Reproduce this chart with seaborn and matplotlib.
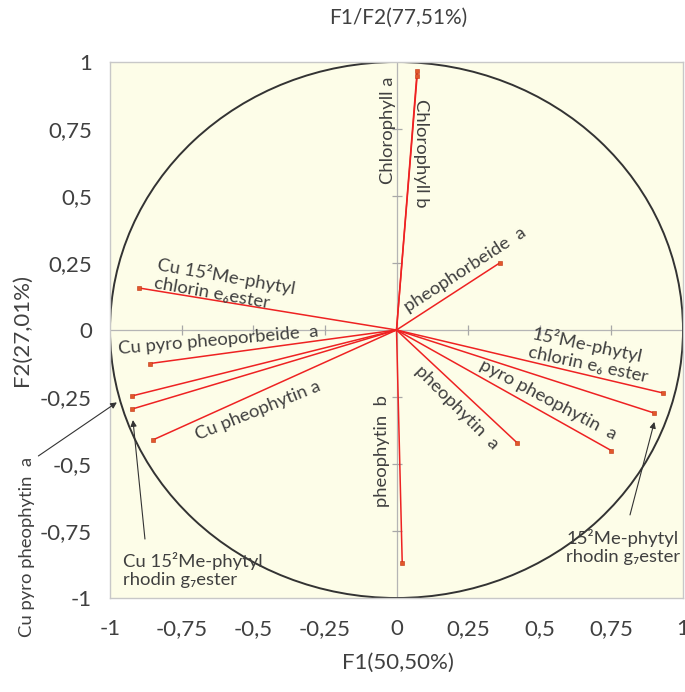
import numpy as np
import pandas as pd
import matplotlib
matplotlib.use("Agg")
import matplotlib.pyplot as plt
from matplotlib.patches import Circle
import seaborn as sns

# ---------------- data ----------------
variables = [
    "Chlorophyll a", "Chlorophyll b", "pheophorbeide a",
    "15²Me-phytyl chlorin e6 ester", "15²Me-phytyl rhodin g7 ester",
    "pyro pheophytin a", "pheophytin a", "pheophytin b",
    "Cu 15²Me-phytyl chlorin e6 ester", "Cu pyro pheoporbeide a",
    "Cu pyro pheophytin a", "Cu 15²Me-phytyl rhodin g7 ester",
    "Cu pheophytin a",
]
f1 = [0.072, 0.072, 0.36, 0.93, 0.90, 0.75, 0.42, 0.02,
      -0.90, -0.86, -0.923, -0.923, -0.85]
f2 = [0.966, 0.948, 0.25, -0.235, -0.31, -0.45, -0.42, -0.87,
      0.157, -0.125, -0.246, -0.295, -0.41]
tick_values = [-1, -0.75, -0.5, -0.25, 0, 0.25, 0.5, 0.75, 1]
tick_labels = ["-1", "-0,75", "-0,5", "-0,25", "0", "0,25", "0,5", "0,75", "1"]
title = "F1/F2(77,51%)"
xlabel = "F1(50,50%)"
ylabel = "F2(27,01%)"

# ---------------- style ----------------
sns.set_style("white")
plt.rcParams["font.family"] = ["Lato", "DejaVu Sans"]
TXT = "#404040"

W, H = 685, 692
fig = plt.figure(figsize=(W / 100, H / 100), dpi=100)
L, R, T, B = 110, 683, 62, 598
ax = fig.add_axes([L / W, 1 - B / H, (R - L) / W, (B - T) / H])
ax.set_facecolor("#fdfde8")
for s in ax.spines.values():
    s.set_color("#c8c8c8")
    s.set_linewidth(1.0)

# segments origin -> loading
rows = []
for n, x, y in zip(variables, f1, f2):
    rows.append({"name": n, "F1": 0.0, "F2": 0.0})
    rows.append({"name": n, "F1": x, "F2": y})
seg = pd.DataFrame(rows)
pts = pd.DataFrame({"name": variables, "F1": f1, "F2": f2})

# inner cross axes with small ticks
ax.axhline(0, color="#b5b5b5", lw=0.9, zorder=1)
ax.axvline(0, color="#b5b5b5", lw=0.9, zorder=1)
tv = np.array([t for t in tick_values if t not in (0, -1, 1)])
ax.plot(tv, np.zeros_like(tv), ls="none", marker="|", ms=7, color="#a8a8a8", mew=0.9, zorder=1)
ax.plot(np.zeros_like(tv), tv, ls="none", marker="_", ms=7, color="#a8a8a8", mew=0.9, zorder=1)

ax.add_patch(Circle((0, 0), 1.0, fill=False, ec="#333333", lw=1.4, zorder=2))

sns.lineplot(data=seg, x="F1", y="F2", units="name", estimator=None, sort=False,
             color="#ee2222", lw=1.1, ax=ax, zorder=3)
sns.scatterplot(data=pts, x="F1", y="F2", marker="s", s=10, color="#e2572a",
                edgecolor="#c03010", linewidth=0.4, ax=ax, zorder=4)

ax.set_xlim(-1, 1)
ax.set_ylim(-1, 1)
ax.set_xticks(tick_values)
ax.set_yticks(tick_values)
ax.set_xticklabels(tick_labels)
ax.set_yticklabels(tick_labels)
ax.tick_params(axis="both", length=0, labelsize=16, labelcolor=TXT)
ax.tick_params(axis="y", pad=13)
ax.tick_params(axis="x", pad=15)
ax.set_xlabel("")
ax.set_ylabel("")

fs = 13.3
def lab(x, y, s, rot, **kw):
    ax.text(x, y, s, rotation=rot, ha="center", va="center",
            fontsize=fs, color=TXT, rotation_mode="anchor",
            linespacing=1.15, zorder=5, **kw)

lab(-0.03, 0.746, "Chlorophyll a", 90)
lab(0.085, 0.66, "Chlorophyll b", -90)
lab(0.24, 0.224, "pheophorbeide  a", 33)
lab(0.675, -0.093, "15²Me-phytyl\nchlorin e₆ ester", -12, multialignment="left")
lab(0.53, -0.26, "pyro pheophytin  a", -28)
lab(0.21, -0.29, "pheophytin  a", -45)
lab(-0.05, -0.45, "pheophytin  b", 90)
lab(-0.60, 0.168, "Cu 15²Me-phytyl\nchlorin e₆ester", -10, multialignment="left")
lab(-0.623, -0.037, "Cu pyro pheoporbeide  a", 5)
lab(-0.483, -0.30, "Cu pheophytin a", 22)

# outside / annotated labels
ax.text(-1.29, -0.81, "Cu pyro pheophytin  a", rotation=90, ha="center", va="center",
        fontsize=fs, color=TXT, clip_on=False)
ax.text(-0.955, -0.895, "Cu 15²Me-phytyl\nrhodin g₇ester", ha="left", va="center",
        fontsize=fs, color=TXT, linespacing=1.15)
ax.text(0.592, -0.81, "15²Me-phytyl\nrhodin g₇ester", ha="left", va="center",
        fontsize=fs, color=TXT, linespacing=1.15, clip_on=False)

ap = dict(arrowstyle="-|>", color="#333333", lw=0.8, mutation_scale=9, shrinkA=0, shrinkB=0)
ax.annotate("", xy=(-0.976, -0.27), xytext=(-1.25, -0.47), arrowprops=ap, annotation_clip=False)
ax.annotate("", xy=(-0.92, -0.336), xytext=(-0.878, -0.78), arrowprops=ap, annotation_clip=False)
ax.annotate("", xy=(0.90, -0.343), xytext=(0.815, -0.69), arrowprops=ap, annotation_clip=False)

fig.text(398 / W, 1 - 18 / H, title, ha="center", va="center", fontsize=15, color=TXT)
fig.text(398 / W, 1 - 663 / H, xlabel, ha="center", va="center", fontsize=16, color=TXT)
fig.text(22 / W, 1 - 330 / H, ylabel, ha="center", va="center", rotation=90, fontsize=16, color=TXT)

fig.savefig("out.png", dpi=100)
